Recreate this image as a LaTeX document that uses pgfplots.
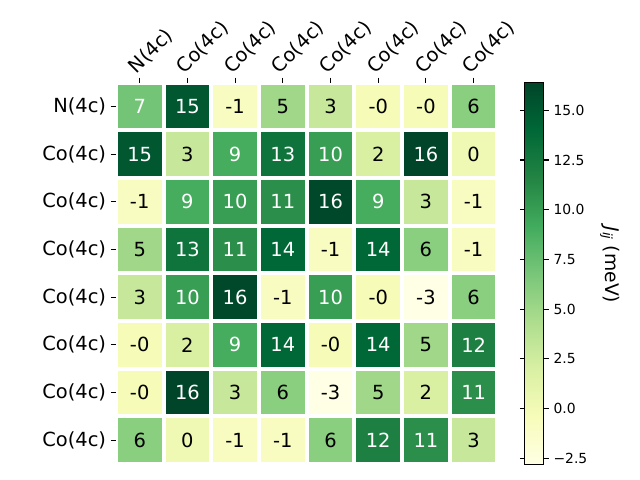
\documentclass[border=0pt]{standalone}
\usepackage{pgfplots}
\pgfplotsset{compat=1.18}
\usepackage{pgfplotstable}
\usepackage{fontspec}
\setmainfont{DejaVu Sans}

\protected\def\W#1{\textcolor{white}{#1}}
\protected\def\B#1{\textcolor{black}{#1}}

% J_ij matrix, x = column, y = row, v = value, lab = shown text (\W white, \B black)
\pgfplotstableread{
x y v lab
0 0 7.0 \W{7}
1 0 15.2 \W{15}
2 0 -0.8 \B{-1}
3 0 5.0 \B{5}
4 0 3.0 \B{3}
5 0 -0.3 \B{-0}
6 0 -0.3 \B{-0}
7 0 6.0 \B{6}
0 1 15.2 \W{15}
1 1 3.0 \B{3}
2 1 9.0 \W{9}
3 1 13.0 \W{13}
4 1 10.0 \W{10}
5 1 2.0 \B{2}
6 1 16.4 \W{16}
7 1 0.2 \B{0}
0 2 -0.8 \B{-1}
1 2 9.0 \W{9}
2 2 10.0 \W{10}
3 2 11.0 \W{11}
4 2 16.2 \W{16}
5 2 9.0 \W{9}
6 2 3.0 \B{3}
7 2 -0.8 \B{-1}
0 3 5.0 \B{5}
1 3 13.0 \W{13}
2 3 11.0 \W{11}
3 3 14.0 \W{14}
4 3 -0.8 \B{-1}
5 3 14.0 \W{14}
6 3 6.0 \B{6}
7 3 -0.8 \B{-1}
0 4 3.0 \B{3}
1 4 10.0 \W{10}
2 4 16.2 \W{16}
3 4 -0.8 \B{-1}
4 4 10.0 \W{10}
5 4 -0.3 \B{-0}
6 4 -2.8 \B{-3}
7 4 6.0 \B{6}
0 5 -0.3 \B{-0}
1 5 2.0 \B{2}
2 5 9.0 \W{9}
3 5 14.0 \W{14}
4 5 -0.3 \B{-0}
5 5 14.0 \W{14}
6 5 5.0 \B{5}
7 5 12.0 \W{12}
0 6 -0.3 \B{-0}
1 6 16.4 \W{16}
2 6 3.0 \B{3}
3 6 6.0 \B{6}
4 6 -2.8 \B{-3}
5 6 5.0 \B{5}
6 6 2.0 \B{2}
7 6 11.0 \W{11}
0 7 6.0 \B{6}
1 7 0.2 \B{0}
2 7 -0.8 \B{-1}
3 7 -0.8 \B{-1}
4 7 6.0 \B{6}
5 7 12.0 \W{12}
6 7 11.0 \W{11}
7 7 3.0 \B{3}
}\jdata

\pgfplotsset{
  colormap={YlGn}{rgb255=(255,255,229) rgb255=(247,252,185) rgb255=(217,240,163)
    rgb255=(173,221,142) rgb255=(120,198,121) rgb255=(65,171,93)
    rgb255=(35,132,67) rgb255=(0,104,55) rgb255=(0,69,41)},
}

\begin{document}
\begin{tikzpicture}
\path[use as bounding box] (0,0) rectangle (460.8pt,345.6pt);
\begin{axis}[
    scale only axis,
    width=274.8pt, height=274.8pt,
    at={(83.4pt,11.4pt)}, anchor=south west,
    xmin=-0.5, xmax=7.5, ymin=-0.5, ymax=7.5,
    y dir=reverse,
    xtick={0,...,7}, ytick={0,...,7},
    xticklabels={N(4c),Co(4c),Co(4c),Co(4c),Co(4c),Co(4c),Co(4c),Co(4c)},
    yticklabels={N(4c),Co(4c),Co(4c),Co(4c),Co(4c),Co(4c),Co(4c),Co(4c)},
    xtick pos=upper, xticklabel pos=upper, ytick pos=left,
    tick align=outside, major tick length=3.5pt,
    tick style={black, line width=0.8pt},
    axis line style={draw=none},
    xticklabel style={xshift=-0.8pt, yshift=1pt, rotate=45, anchor=south west,
      inner sep=0pt, font=\fontsize{14}{16}\selectfont},
    yticklabel style={font=\fontsize{14}{16}\selectfont},
    colormap name=YlGn,
    point meta min=-2.8, point meta max=16.4,
    colorbar,
    colorbar style={
      at={(parent axis.north east)}, anchor=north west, xshift=11.1pt,
      scale only axis, width=13.7pt, height=274.8pt,
      ytick={-2.5,0,2.5,5,7.5,10,12.5,15},
      yticklabels={−2.5,0.0,2.5,5.0,7.5,10.0,12.5,15.0},
      yticklabel style={font=\fontsize{10}{12}\selectfont},
      tick align=outside, major tick length=3.5pt,
      tick style={black, line width=0.8pt},
      axis line style={black, line width=0.8pt},
      ylabel={{\itshape J}\textsubscript{\itshape ij} (meV)},
      every axis y label/.style={at={(axis description cs:1,0.5)},
        xshift=40.3pt, yshift=6.1pt, rotate=-90, anchor=south, inner sep=0pt,
        font=\fontsize{13.5}{15}\selectfont},
    },
]
\addplot[scatter, only marks, mark=square*, mark size=15.37pt,
    mark options={line width=0pt},
    scatter/use mapped color={draw=mapped color, fill=mapped color},
    point meta=\thisrow{v}] table[x=x, y=y] {\jdata};
\addplot[only marks, mark=none, point meta=explicit symbolic,
    nodes near coords,
    every node near coord/.style={anchor=center,
      font=\fontsize{14}{16}\selectfont}]
    table[x=x, y=y, meta=lab] {\jdata};
\end{axis}
\end{tikzpicture}
\end{document}
